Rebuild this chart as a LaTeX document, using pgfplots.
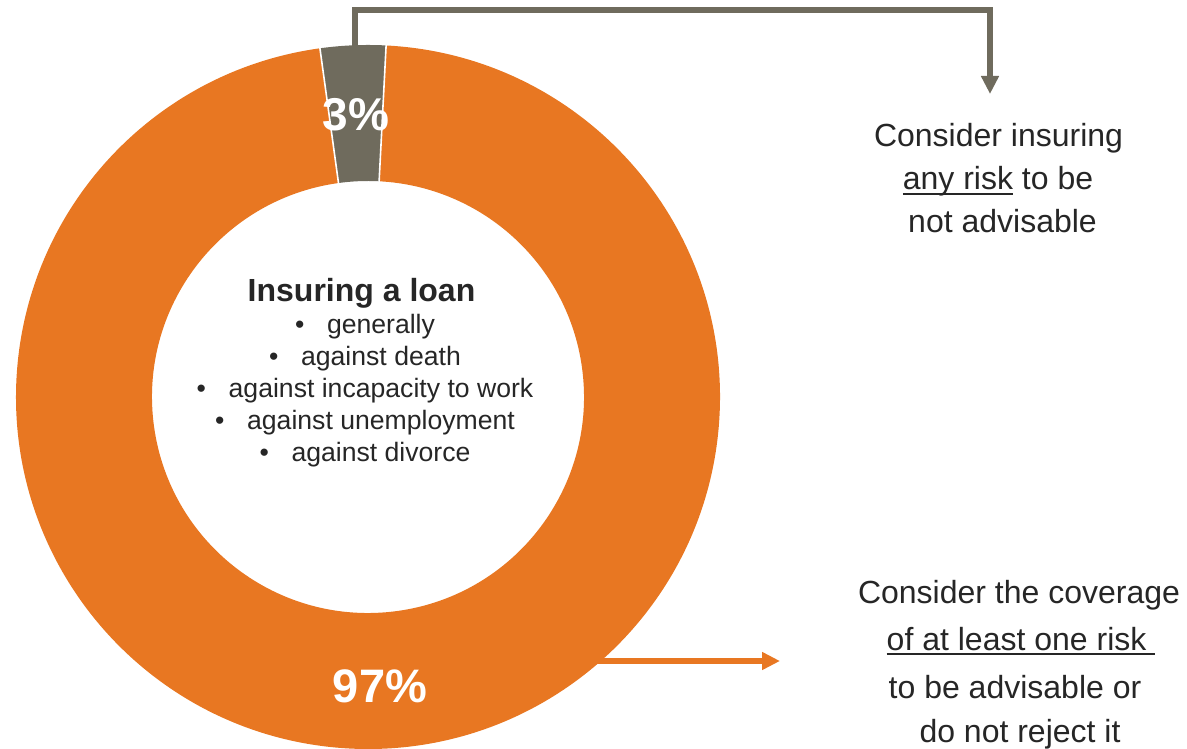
\documentclass[border=0pt]{standalone}
\usepackage{pgfplots}
\pgfplotsset{compat=1.18}
\usepackage{pgfplotstable}
\usepackage{fontspec}
\setmainfont{Liberation Sans}
\usetikzlibrary{arrows.meta}
\definecolor{orangeC}{RGB}{232,119,34}
\definecolor{grayC}{RGB}{111,107,93}
\definecolor{txt}{RGB}{38,38,38}
\newcommand\myul[1]{\setbox0\hbox{#1}\rlap{\rule[-0.16em]{\wd0}{0.065em}}\box0\relax}
\pgfplotstableread{
label value
risk 3
atleastone 97
}\slices
\begin{document}%
\begin{tikzpicture}
\pgfplotstablegetelem{0}{value}\of\slices \let\vA\pgfplotsretval
\pgfplotstablegetelem{1}{value}\of\slices \let\vB\pgfplotsretval
\pgfmathsetmacro\aS{97.85}
\pgfmathsetmacro\aM{\aS-3.6*\vA}
\pgfmathsetmacro\aE{\aM-3.6*\vB}
\begin{axis}[x=0.5bp,y=0.5bp,xmin=0,xmax=1187,ymin=0,ymax=748,hide axis,clip=false]
% donut slices
\fill[grayC] (axis cs:368,351) ++(\aS:176bp) arc[start angle=\aS, end angle=\aM, radius=176bp] -- ++({\aM+180}:68bp) arc[start angle=\aM, end angle=\aS, radius=108bp] -- cycle;
\fill[orangeC] (axis cs:368,351) ++(\aM:176bp) arc[start angle=\aM, end angle=\aE, radius=176bp] -- ++({\aE+180}:68bp) arc[start angle=\aE, end angle=\aM, radius=108bp] -- cycle;
\draw[white, line width=0.8bp] (axis cs:368,351) ++(\aS:107bp) -- ++(\aS:70bp);
\draw[white, line width=0.8bp] (axis cs:368,351) ++(\aM:107bp) -- ++(\aM:70bp);
% connectors
\draw[grayC, line width=3bp, line join=miter, -{Triangle[length=9bp,width=8.5bp]}] (axis cs:355,700) |- (axis cs:990,737.5) -- (axis cs:990,654);
\draw[orangeC, line width=3.25bp, -{Triangle[length=9bp,width=8.5bp]}] (axis cs:595,87) -- (axis cs:780,87);
% percentage labels
\node[anchor=base, inner sep=0, text=white, font=\bfseries\fontsize{23bp}{23bp}\selectfont] at (axis cs:356,617) {3\%};
\node[anchor=base, inner sep=0, text=white, font=\bfseries\fontsize{23.5bp}{23.5bp}\selectfont] at (axis cs:380,46) {97\%};
% centre text
\node[anchor=base, inner sep=0, text=txt, font=\bfseries\fontsize{16bp}{16bp}\selectfont] at (axis cs:361.5,446) {Insuring a loan};
\begin{scope}[every node/.style={anchor=base, inner sep=0, text=txt, font=\fontsize{13.3bp}{16bp}\selectfont}]
\node at (axis cs:365,414) {\makebox[16bp][l]{•}generally};
\node at (axis cs:365,382) {\makebox[16bp][l]{•}against death};
\node at (axis cs:365,350) {\makebox[16bp][l]{•}against incapacity to work};
\node at (axis cs:365,318) {\makebox[16bp][l]{•}against unemployment};
\node at (axis cs:365,286) {\makebox[16bp][l]{•}against divorce};
\end{scope}
% right texts
\begin{scope}[every node/.style={anchor=base, inner sep=0, text=txt, font=\fontsize{16bp}{16bp}\selectfont}]
\node at (axis cs:998.5,601) {Consider insuring};
\node at (axis cs:998,558) {\myul{any risk} to be};
\node at (axis cs:1002.5,515) {not advisable};
\node at (axis cs:1019,145) {Consider the coverage};
\node at (axis cs:1021,98) {\myul{of at least one risk\ }};
\node at (axis cs:1015,50) {to be advisable or};
\node at (axis cs:1020,6) {do not reject it};
\end{scope}
\end{axis}
\pgfresetboundingbox
\path (current axis.south west) rectangle (current axis.north east);
\end{tikzpicture}%
\end{document}
